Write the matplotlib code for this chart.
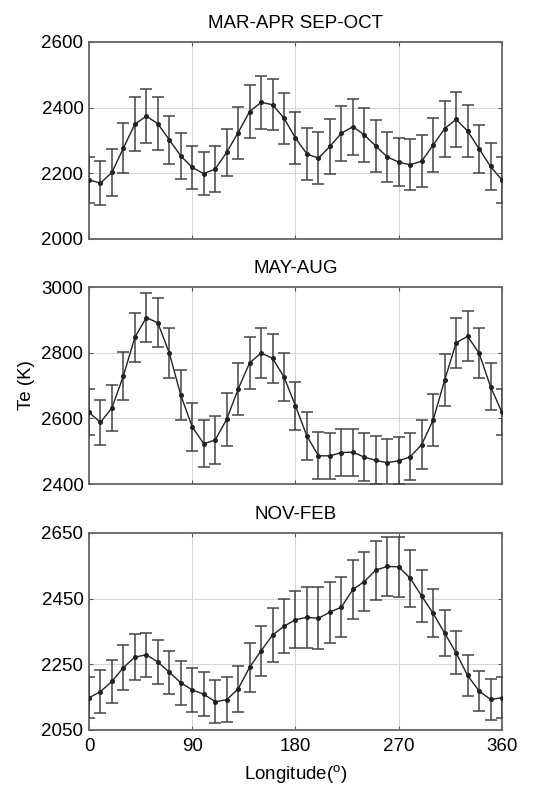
import numpy as np
from matplotlib import pyplot as plt

plt.rcParams['font.family'] = ['Liberation Sans', 'DejaVu Sans']

## longitude bins, every 10 degrees
lon = list(range(0, 361, 10))

titles = ['MAR-APR SEP-OCT', 'MAY-AUG', 'NOV-FEB']

te_equinox = [2180, 2170, 2203, 2277, 2350, 2374, 2351, 2302, 2253, 2218, 2199, 2213,
              2264, 2324, 2388, 2416, 2409, 2368, 2307, 2259, 2246, 2282, 2322, 2342,
              2317, 2283, 2250, 2234, 2226, 2237, 2286, 2336, 2364, 2329, 2275, 2221, 2180]
err_equinox = [70, 68, 71, 76, 81, 82, 80, 74, 69, 65, 66, 69, 72, 79, 80, 80, 78, 78, 79,
               79, 80, 83, 84, 85, 82, 78, 76, 74, 77, 79, 83, 85, 83, 80, 73, 71, 70]

te_summer = [2618, 2588, 2632, 2730, 2847, 2907, 2891, 2799, 2671, 2574, 2523, 2534,
             2597, 2689, 2769, 2799, 2783, 2726, 2638, 2546, 2486, 2486, 2496, 2497,
             2482, 2472, 2465, 2471, 2483, 2520, 2595, 2716, 2830, 2850, 2799, 2697, 2618]
err_summer = [70, 68, 69, 73, 75, 74, 75, 77, 77, 72, 71, 74, 81, 80, 79, 77, 74, 74, 74,
              72, 71, 70, 71, 71, 72, 73, 73, 71, 72, 75, 79, 79, 77, 76, 75, 72, 70]

te_winter = [2148, 2167, 2198, 2240, 2272, 2279, 2257, 2226, 2194, 2172, 2159, 2136,
             2142, 2175, 2241, 2291, 2339, 2366, 2386, 2393, 2390, 2409, 2424, 2478,
             2502, 2537, 2548, 2547, 2512, 2458, 2405, 2345, 2285, 2216, 2169, 2143, 2148]
err_winter = [62, 65, 66, 69, 69, 67, 66, 66, 67, 68, 67, 66, 68, 69, 74, 76, 81, 82, 86,
              92, 94, 93, 91, 91, 90, 90, 90, 92, 86, 80, 73, 69, 65, 62, 61, 62, 62]

y_limits = [(2000, 2600), (2400, 3000), (2050, 2650)]
y_ticks = [[2000, 2200, 2400, 2600], [2400, 2600, 2800, 3000], [2050, 2250, 2450, 2650]]
x_ticks = [0, 90, 180, 270, 360]

series = [(te_equinox, err_equinox), (te_summer, err_summer), (te_winter, err_winter)]

fig = plt.figure(figsize=(5.58, 7.89), dpi=100)
tops = [0.9468, 0.6362, 0.3245]
height = 0.2497

for i, (vals, errs) in enumerate(series):
    ax = fig.add_axes([0.1595, tops[i] - height, 0.7401, height])
    ax.errorbar(lon, vals, yerr=errs, color='#222222', ecolor='#444444', elinewidth=1.1,
                capsize=4, capthick=1.1, lw=1.0, marker='o', markersize=2.6, zorder=3)
    ax.set_xlim(0, 360)
    ax.set_ylim(*y_limits[i])
    ax.set_xticks(x_ticks)
    ax.set_yticks(y_ticks[i])
    ax.grid(True, color='#d4d4d4', lw=0.7)
    ax.set_axisbelow(True)
    ax.tick_params(direction='in', top=True, right=True, length=3, color='#555555',
                   labelsize=13.5, pad=4)
    ax.tick_params(axis='x', pad=6)
    for s in ax.spines.values():
        s.set_color('#666666')
        s.set_linewidth(1.3)
    ax.set_title(titles[i], fontsize=13.5, pad=10)
    if i < 2:
        ax.set_xticklabels([])
    else:
        ax.set_xlabel('Longitude($^\\mathregular{o}$)', fontsize=13.5)
        ax.xaxis.set_label_coords(0.5, -0.17)
    if i == 1:
        ax.set_ylabel('Te (K)', fontsize=13.5)
        ax.yaxis.set_label_coords(-0.13, 0.5)

fig.savefig('out.png', dpi=100)
